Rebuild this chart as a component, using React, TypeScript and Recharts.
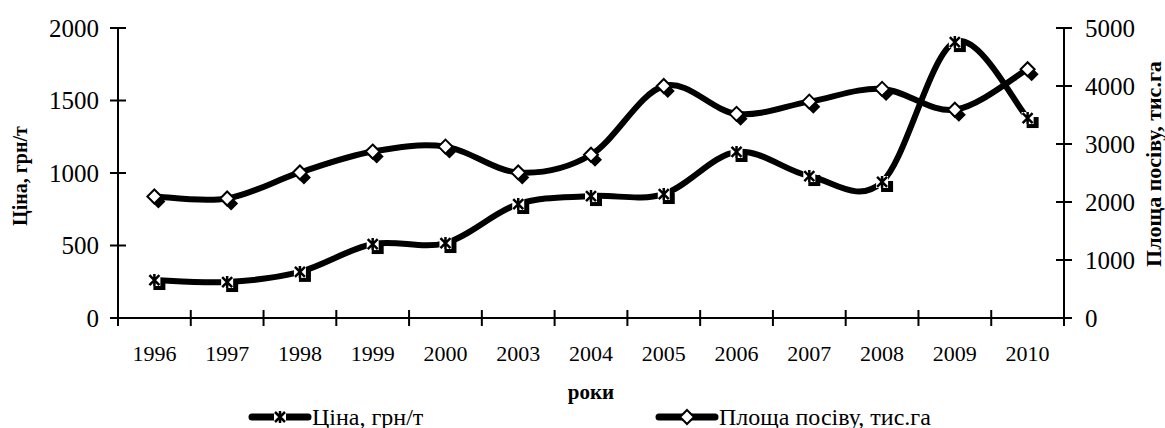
import React from 'react';
import { LineChart, Line, XAxis, YAxis } from 'recharts';

const years = ['1996', '1997', '1998', '1999', '2000', '2003', '2004', '2005', '2006', '2007', '2008', '2009', '2010'];
const price = [262, 248, 318, 510, 517, 786, 841, 855, 1145, 979, 938, 1903, 1379];
const area = [2095, 2060, 2510, 2870, 2955, 2510, 2815, 4000, 3520, 3730, 3950, 3590, 4290];
const priceTicks = [0, 500, 1000, 1500, 2000];
const areaTicks = [0, 1000, 2000, 3000, 4000, 5000];

const data = years.map((year, i) => ({ pos: i + 0.5, year, price: price[i], area: area[i] }));

// whole numbers are the boundaries between years (tick marks), halves carry the labels
const xTicks: number[] = [];
for (let i = 0; i <= years.length; i++) {
  xTicks.push(i);
  if (i < years.length) xTicks.push(i + 0.5);
}

const FONT = '"Liberation Serif", "Times New Roman", serif';

// excel-like smoothing: catmull-rom pieces as cubic beziers
const smooth = (ctx: any) => {
  let pts: number[][] = [];
  return {
    areaStart() {},
    areaEnd() {},
    lineStart() {
      pts = [];
    },
    point(x: number, y: number) {
      pts.push([x, y]);
    },
    lineEnd() {
      if (!pts.length) return;
      ctx.moveTo(pts[0][0], pts[0][1]);
      for (let i = 0; i < pts.length - 1; i++) {
        const p0 = pts[i - 1] || pts[i];
        const p1 = pts[i];
        const p2 = pts[i + 1];
        const p3 = pts[i + 2] || p2;
        ctx.bezierCurveTo(
          p1[0] + (p2[0] - p0[0]) / 6,
          p1[1] + (p2[1] - p0[1]) / 6,
          p2[0] - (p3[0] - p1[0]) / 6,
          p2[1] - (p3[1] - p1[1]) / 6,
          p2[0],
          p2[1]
        );
      }
    },
  };
};

const diamond = (cx: number, cy: number, r: number) =>
  `M${cx},${cy - r}L${cx + r},${cy}L${cx},${cy + r}L${cx - r},${cy}Z`;

const star = (cx: number, cy: number) =>
  `M${cx - 5},${cy - 5}L${cx + 5},${cy + 5}M${cx - 5},${cy + 5}L${cx + 5},${cy - 5}M${cx},${cy - 6}L${cx},${cy + 6}`;

const StarDot = (props: any) => {
  const { cx, cy, index } = props;
  if (cx == null || cy == null) return null;
  return (
    <g key={'s' + index}>
      <rect x={cx - 1} y={cy - 1} width={12} height={11} fill="#000" />
      <rect x={cx - 6} y={cy - 6} width={12} height={12} fill="#fff" />
      <path d={star(cx, cy)} stroke="#000" strokeWidth={2.5} fill="none" />
    </g>
  );
};

const DiamondDot = (props: any) => {
  const { cx, cy, index } = props;
  if (cx == null || cy == null) return null;
  return (
    <g key={'d' + index}>
      <path d={diamond(cx + 4, cy + 5, 7)} fill="#000" />
      <path d={diamond(cx, cy, 7)} fill="#fff" stroke="#000" strokeWidth={2} />
    </g>
  );
};

const XTick = (props: any) => {
  const { x, y, payload } = props;
  const v = payload.value;
  if (Number.isInteger(v)) {
    return <line x1={x} x2={x} y1={y - 8} y2={y + 8} stroke="#000" strokeWidth={2} />;
  }
  return (
    <text x={x} y={y + 35} textAnchor="middle" dominantBaseline="central" fontFamily={FONT} fontSize={22} fill="#000">
      {years[Math.floor(v)]}
    </text>
  );
};

const YTick = (props: any) => {
  const { x, y, payload, side } = props;
  return (
    <g>
      <line x1={x - 8} x2={x + 8} y1={y} y2={y} stroke="#000" strokeWidth={2} />
      <text
        x={side === 'left' ? x - 19 : x + 21}
        y={y}
        textAnchor={side === 'left' ? 'end' : 'start'}
        dominantBaseline="central"
        fontFamily={FONT}
        fontSize={25}
        fill="#000"
      >
        {payload.value}
      </text>
    </g>
  );
};

const SideTitle = (props: any) => {
  const { viewBox, value, dx } = props;
  const x = viewBox.x + dx;
  const y = viewBox.y + viewBox.height / 2 + props.dy;
  return (
    <text
      x={x}
      y={y}
      transform={`rotate(-90 ${x} ${y})`}
      textAnchor="middle"
      dominantBaseline="central"
      fontFamily={FONT}
      fontWeight="bold"
      fontSize={props.size}
      fill="#000"
    >
      {value}
    </text>
  );
};

const BottomTitle = (props: any) => {
  const { viewBox } = props;
  return (
    <text
      x={viewBox.x + viewBox.width / 2}
      y={viewBox.y + 74}
      textAnchor="middle"
      dominantBaseline="central"
      fontFamily={FONT}
      fontWeight="bold"
      fontSize={21}
      fill="#000"
    >
      роки
    </text>
  );
};

const LegendItem = ({ left, label, kind }: { left: number; label: string; kind: string }) => (
  <div style={{ position: 'absolute', left, top: 407, display: 'flex', alignItems: 'center', height: 20 }}>
    <svg width={64} height={20}>
      <line x1={4} x2={60} y1={10} y2={10} stroke="#000" strokeWidth={7} strokeLinecap="round" />
      {kind === 'star' ? (
        <g>
          <rect x={26} y={4} width={12} height={12} fill="#fff" />
          <path d={star(32, 10)} stroke="#000" strokeWidth={2.5} fill="none" />
        </g>
      ) : (
        <path d={diamond(32, 10, 7)} fill="#fff" stroke="#000" strokeWidth={2} />
      )}
    </svg>
    <span style={{ fontFamily: FONT, fontSize: 24, lineHeight: '20px', color: '#000', whiteSpace: 'nowrap' }}>
      {label}
    </span>
  </div>
);

export default function App() {
  return (
    <div style={{ position: 'absolute', left: 0, top: 0, width: 1165, height: 428, background: '#fff' }}>
      <LineChart width={1165} height={428} data={data} margin={{ top: 28, right: 0, bottom: 0, left: 0 }}>
        <XAxis
          dataKey="pos"
          type="number"
          domain={[0, years.length]}
          ticks={xTicks}
          interval={0}
          height={110}
          tickSize={0}
          tickMargin={0}
          tickLine={false}
          axisLine={{ stroke: '#000', strokeWidth: 2 }}
          tick={<XTick />}
          label={<BottomTitle />}
        />
        <YAxis
          yAxisId="price"
          orientation="left"
          width={118}
          domain={[0, 2000]}
          ticks={priceTicks}
          interval={0}
          tickSize={0}
          tickMargin={0}
          tickLine={false}
          axisLine={{ stroke: '#000', strokeWidth: 2 }}
          tick={<YTick side="left" />}
          label={<SideTitle value="Ціна, грн/т" dx={20} dy={3} size={20} />}
        />
        <YAxis
          yAxisId="area"
          orientation="right"
          width={101}
          domain={[0, 5000]}
          ticks={areaTicks}
          interval={0}
          tickSize={0}
          tickMargin={0}
          tickLine={false}
          axisLine={{ stroke: '#000', strokeWidth: 2 }}
          tick={<YTick side="right" />}
          label={<SideTitle value="Площа посіву, тис.га" dx={89} dy={-9} size={22} />}
        />
        <Line
          yAxisId="price"
          dataKey="price"
          type={smooth as any}
          stroke="#000"
          strokeWidth={6}
          dot={StarDot}
          activeDot={false}
          isAnimationActive={false}
        />
        <Line
          yAxisId="area"
          dataKey="area"
          type={smooth as any}
          stroke="#000"
          strokeWidth={6}
          dot={DiamondDot}
          activeDot={false}
          isAnimationActive={false}
        />
      </LineChart>
      <LegendItem left={248} label="Ціна, грн/т" kind="star" />
      <LegendItem left={655} label="Площа посіву, тис.га" kind="diamond" />
    </div>
  );
}
